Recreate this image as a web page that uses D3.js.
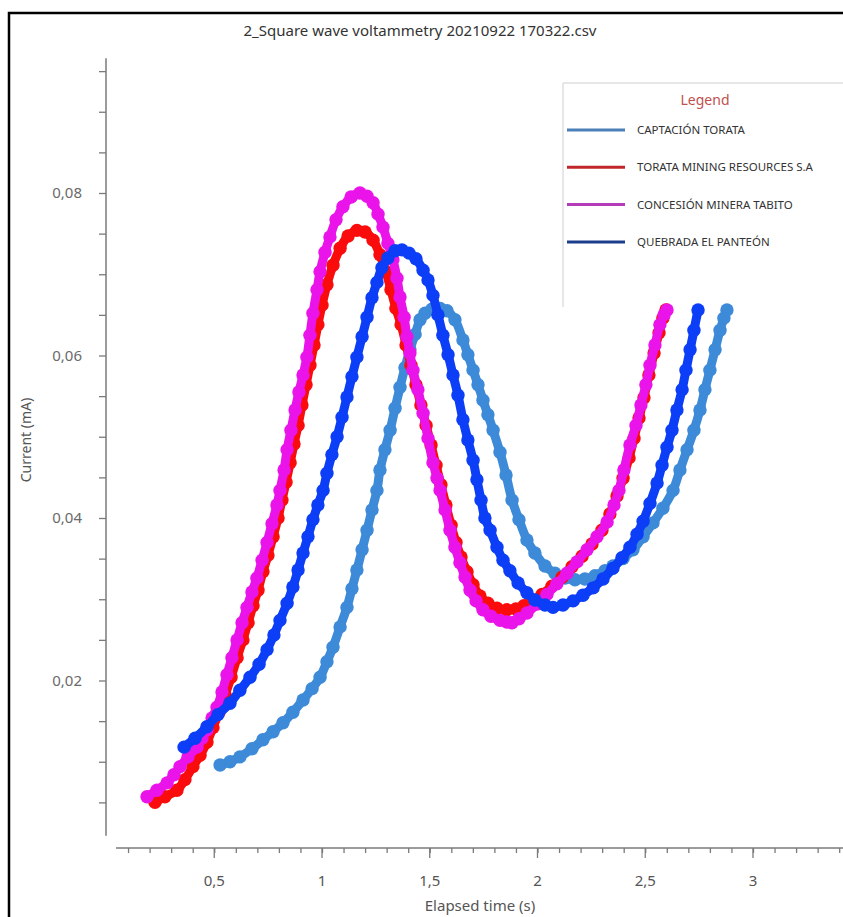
<!DOCTYPE html>
<html>
<head>
<meta charset="utf-8">
<script src="https://d3js.org/d3.v7.min.js"></script>
<style>
  body { margin: 0; background: #fff; }
  svg { display: block; }
  text { font-family: "Noto Sans", "Open Sans", sans-serif; }
</style>
</head>
<body>
<div id="chart"></div>
<script>
// chart text
const chartTitle = "2_Square wave voltammetry 20210922 170322.csv";
const xTitle = "Elapsed time (s)";
const yTitle = "Current (mA)";
const legendTitle = "Legend";
const seriesNames = ["CAPTACIÓN TORATA", "TORATA MINING RESOURCES S.A", "CONCESIÓN MINERA TABITO", "QUEBRADA EL PANTEÓN"];
const seriesColors = ["#3d8ad8", "#fa0c0c", "#ea14ea", "#0b3ef6"];
const legendColors = ["#4a7fb8", "#c0262c", "#b43cb8", "#1c3c8c"];

// ticks
const xTickValues = [0.5, 1, 1.5, 2, 2.5, 3];
const xTickLabels = ["0,5", "1", "1,5", "2", "2,5", "3"];
const yTickValues = [0.02, 0.04, 0.06, 0.08];
const yTickLabels = ["0,02", "0,04", "0,06", "0,08"];

// series values (time s, current mA)
const captX = [0.527,0.573,0.619,0.675,0.726,0.773,0.819,0.865,0.912,0.954,0.991,1.023,1.051,1.084,1.116,1.139,1.162,1.186,1.209,1.232,1.255,1.269,1.292,1.316,1.339,1.362,1.385,1.408,1.432,1.455,1.478,1.510,1.548,1.580,1.617,1.654,1.677,1.701,1.724,1.747,1.770,1.794,1.826,1.854,1.882,1.914,1.951,1.988,2.035,2.081,2.128,2.174,2.220,2.267,2.313,2.350,2.397,2.443,2.490,2.536,2.582,2.629,2.661,2.694,2.726,2.754,2.777,2.800,2.824,2.847,2.865,2.879];
const captY = [0.0096,0.0100,0.0106,0.0116,0.0127,0.0137,0.0148,0.0161,0.0176,0.0190,0.0204,0.0223,0.0241,0.0266,0.0290,0.0313,0.0336,0.0361,0.0385,0.0410,0.0434,0.0459,0.0484,0.0508,0.0535,0.0561,0.0585,0.0607,0.0626,0.0644,0.0652,0.0657,0.0658,0.0655,0.0644,0.0619,0.0601,0.0582,0.0564,0.0545,0.0527,0.0508,0.0481,0.0453,0.0422,0.0398,0.0373,0.0357,0.0341,0.0332,0.0326,0.0324,0.0325,0.0329,0.0335,0.0341,0.0350,0.0361,0.0377,0.0394,0.0412,0.0434,0.0459,0.0484,0.0508,0.0533,0.0558,0.0582,0.0607,0.0631,0.0646,0.0656];

const miningX = [0.225,0.271,0.327,0.364,0.401,0.434,0.466,0.494,0.522,0.550,0.578,0.606,0.633,0.657,0.680,0.703,0.726,0.749,0.773,0.796,0.814,0.833,0.852,0.870,0.889,0.907,0.926,0.944,0.963,0.981,1.000,1.023,1.051,1.084,1.121,1.162,1.200,1.237,1.269,1.297,1.320,1.343,1.367,1.390,1.413,1.436,1.459,1.483,1.506,1.529,1.552,1.575,1.599,1.622,1.645,1.673,1.701,1.733,1.770,1.812,1.858,1.900,1.937,1.974,2.021,2.067,2.114,2.160,2.207,2.253,2.299,2.336,2.369,2.397,2.425,2.448,2.471,2.494,2.517,2.541,2.564,2.582,2.596];
const miningY = [0.0050,0.0057,0.0065,0.0078,0.0094,0.0108,0.0124,0.0142,0.0161,0.0182,0.0204,0.0228,0.0250,0.0271,0.0292,0.0311,0.0334,0.0354,0.0377,0.0400,0.0422,0.0444,0.0468,0.0491,0.0514,0.0539,0.0564,0.0588,0.0613,0.0638,0.0662,0.0687,0.0711,0.0732,0.0747,0.0754,0.0752,0.0742,0.0724,0.0703,0.0681,0.0658,0.0638,0.0613,0.0588,0.0564,0.0539,0.0514,0.0490,0.0465,0.0441,0.0416,0.0391,0.0370,0.0352,0.0334,0.0318,0.0304,0.0295,0.0289,0.0287,0.0288,0.0292,0.0298,0.0306,0.0316,0.0327,0.0340,0.0353,0.0368,0.0385,0.0405,0.0427,0.0449,0.0474,0.0498,0.0523,0.0548,0.0576,0.0603,0.0628,0.0646,0.0656];

const tabitoX = [0.188,0.234,0.281,0.313,0.341,0.378,0.420,0.443,0.466,0.490,0.513,0.536,0.559,0.582,0.606,0.629,0.652,0.675,0.698,0.722,0.745,0.768,0.791,0.805,0.824,0.838,0.856,0.875,0.893,0.912,0.930,0.944,0.958,0.977,0.991,1.014,1.037,1.065,1.097,1.135,1.176,1.209,1.237,1.260,1.283,1.306,1.329,1.348,1.362,1.381,1.394,1.408,1.422,1.445,1.469,1.492,1.515,1.534,1.548,1.571,1.594,1.617,1.640,1.664,1.687,1.715,1.747,1.784,1.826,1.858,1.882,1.914,1.951,1.998,2.044,2.090,2.137,2.183,2.230,2.276,2.323,2.355,2.378,2.401,2.429,2.457,2.480,2.503,2.522,2.545,2.568,2.587,2.601];
const tabitoY = [0.0057,0.0065,0.0074,0.0084,0.0094,0.0106,0.0118,0.0129,0.0139,0.0154,0.0167,0.0186,0.0207,0.0228,0.0250,0.0271,0.0290,0.0309,0.0326,0.0348,0.0370,0.0393,0.0416,0.0434,0.0459,0.0484,0.0508,0.0533,0.0555,0.0576,0.0598,0.0625,0.0652,0.0681,0.0703,0.0727,0.0746,0.0767,0.0783,0.0795,0.0800,0.0796,0.0788,0.0774,0.0758,0.0738,0.0718,0.0695,0.0672,0.0647,0.0623,0.0603,0.0582,0.0558,0.0529,0.0498,0.0468,0.0449,0.0434,0.0410,0.0385,0.0364,0.0345,0.0327,0.0311,0.0298,0.0287,0.0279,0.0274,0.0272,0.0271,0.0276,0.0283,0.0294,0.0306,0.0319,0.0332,0.0346,0.0361,0.0377,0.0395,0.0416,0.0434,0.0459,0.0490,0.0514,0.0539,0.0564,0.0588,0.0613,0.0638,0.0650,0.0656];

const panteonX = [0.360,0.411,0.466,0.517,0.573,0.619,0.666,0.708,0.745,0.777,0.805,0.838,0.865,0.889,0.912,0.935,0.958,0.981,1.005,1.023,1.046,1.070,1.093,1.116,1.139,1.162,1.186,1.209,1.232,1.255,1.278,1.306,1.339,1.371,1.404,1.436,1.469,1.492,1.515,1.538,1.561,1.585,1.608,1.631,1.654,1.677,1.701,1.719,1.738,1.756,1.780,1.812,1.840,1.872,1.910,1.951,1.988,2.035,2.072,2.118,2.165,2.211,2.258,2.304,2.350,2.392,2.429,2.462,2.490,2.522,2.555,2.578,2.601,2.624,2.647,2.671,2.689,2.708,2.726,2.745];
const panteonY = [0.0118,0.0129,0.0143,0.0158,0.0172,0.0188,0.0204,0.0220,0.0238,0.0256,0.0274,0.0295,0.0315,0.0336,0.0357,0.0377,0.0398,0.0416,0.0434,0.0455,0.0478,0.0500,0.0524,0.0549,0.0574,0.0598,0.0623,0.0647,0.0671,0.0690,0.0708,0.0720,0.0729,0.0730,0.0726,0.0719,0.0705,0.0693,0.0674,0.0650,0.0625,0.0601,0.0576,0.0551,0.0521,0.0496,0.0471,0.0447,0.0422,0.0400,0.0385,0.0364,0.0348,0.0335,0.0320,0.0308,0.0299,0.0293,0.0290,0.0293,0.0298,0.0305,0.0314,0.0325,0.0338,0.0351,0.0364,0.0380,0.0396,0.0418,0.0443,0.0465,0.0487,0.0508,0.0533,0.0558,0.0582,0.0607,0.0631,0.0656];

const seriesX = [captX, miningX, tabitoX, panteonX];
const seriesY = [captY, miningY, tabitoY, panteonY];

const w = 843;
const h = 917;

const svg = d3.select("#chart").append("svg")
  .attr("width", w)
  .attr("height", h);

// screenshot frame
svg.append("path")
  .attr("d", "M9," + h + " V13 H" + w)
  .attr("fill", "none")
  .attr("stroke", "#000")
  .attr("stroke-width", 2.5);

const xScale = d3.scaleLinear().domain([0, 3.42]).range([106.5, 843.5]);
const yScale = d3.scaleLinear().domain([0, 0.1]).range([843, 30.5]);

// title
svg.append("text")
  .attr("x", 420)
  .attr("y", 36)
  .attr("text-anchor", "middle")
  .attr("font-size", 15)
  .attr("fill", "#333")
  .text(chartTitle);

// y axis
const yMinor = d3.range(1, 20).map(i => i * 0.005);
const yAxisG = svg.append("g")
  .attr("id", "y-axis")
  .attr("transform", "translate(106,0)");
yAxisG.append("line")
  .attr("y1", yScale(0.0966))
  .attr("y2", yScale(0.0009))
  .attr("stroke", "#7a7a7a")
  .attr("stroke-width", 1.5);
yAxisG.call(d3.axisLeft(yScale).tickValues(yMinor).tickSize(7).tickFormat(""))
  .call(g => g.select(".domain").remove())
  .call(g => g.selectAll(".tick line").attr("stroke", "#7a7a7a").attr("stroke-width", 1.3));
svg.selectAll(".ylabel")
  .data(yTickValues)
  .enter()
  .append("text")
  .attr("class", "ylabel")
  .attr("x", 82)
  .attr("y", d => yScale(d) + 5)
  .attr("text-anchor", "end")
  .attr("font-family", "'Open Sans', sans-serif")
  .attr("font-size", 15)
  .attr("fill", "#6a6a6a")
  .text((d, i) => yTickLabels[i]);

svg.append("text")
  .attr("transform", "translate(31,440) rotate(-90)")
  .attr("text-anchor", "middle")
  .attr("font-size", 14)
  .attr("fill", "#555")
  .text(yTitle);

// x axis
const xMinor = d3.range(1, 35).map(i => i * 0.1);
const xAxisG = svg.append("g")
  .attr("id", "x-axis")
  .attr("transform", "translate(0,848)");
xAxisG.append("line")
  .attr("x1", 116)
  .attr("x2", w)
  .attr("stroke", "#7a7a7a")
  .attr("stroke-width", 1.5);
xAxisG.call(d3.axisBottom(xScale).tickValues(xMinor).tickSize(5).tickFormat(""))
  .call(g => g.select(".domain").remove())
  .call(g => g.selectAll(".tick line").attr("stroke", "#7a7a7a").attr("stroke-width", 1.3));
xAxisG.selectAll(".major")
  .data(xTickValues)
  .enter()
  .append("line")
  .attr("class", "major")
  .attr("x1", d => xScale(d))
  .attr("x2", d => xScale(d))
  .attr("y2", 10)
  .attr("stroke", "#7a7a7a")
  .attr("stroke-width", 1.3);
svg.selectAll(".xlabel")
  .data(xTickValues)
  .enter()
  .append("text")
  .attr("class", "xlabel")
  .attr("x", d => xScale(d))
  .attr("y", 886)
  .attr("text-anchor", "middle")
  .attr("font-size", 15)
  .attr("fill", "#555")
  .text((d, i) => xTickLabels[i]);

svg.append("text")
  .attr("x", 480)
  .attr("y", 911)
  .attr("text-anchor", "middle")
  .attr("font-size", 15)
  .attr("fill", "#555")
  .text(xTitle);

// series: thick line + round markers
const line = d3.line()
  .x(d => xScale(d[0]))
  .y(d => yScale(d[1]))
  .curve(d3.curveCatmullRom);

seriesX.forEach((xs, s) => {
  const pts = xs.map((x, i) => [x, seriesY[s][i]]);
  const g = svg.append("g").attr("class", "series");
  g.append("path")
    .datum(pts)
    .attr("d", line)
    .attr("fill", "none")
    .attr("stroke", seriesColors[s])
    .attr("stroke-width", 9)
    .attr("stroke-linejoin", "round");
  g.selectAll("circle")
    .data(pts)
    .enter()
    .append("circle")
    .attr("cx", d => xScale(d[0]))
    .attr("cy", d => yScale(d[1]))
    .attr("r", 6.7)
    .attr("fill", seriesColors[s]);
});

// legend
const legend = svg.append("g").attr("id", "legend");
legend.append("path")
  .attr("d", "M563,307 V83 H" + w)
  .attr("fill", "none")
  .attr("stroke", "#cfcfcf")
  .attr("stroke-width", 1);
legend.append("text")
  .attr("x", 705)
  .attr("y", 105)
  .attr("text-anchor", "middle")
  .attr("font-size", 14)
  .attr("fill", "#c0504d")
  .text(legendTitle);
const items = legend.selectAll(".item")
  .data(seriesNames)
  .enter()
  .append("g")
  .attr("class", "item")
  .attr("transform", (d, i) => "translate(0," + (130 + i * 37.3) + ")");
items.append("line")
  .attr("x1", 567)
  .attr("x2", 625)
  .attr("stroke", (d, i) => legendColors[i])
  .attr("stroke-width", 3);
items.append("text")
  .attr("x", 637)
  .attr("y", 4)
  .attr("font-size", 11.5)
  .attr("fill", "#333")
  .text(d => d);
</script>
</body>
</html>
